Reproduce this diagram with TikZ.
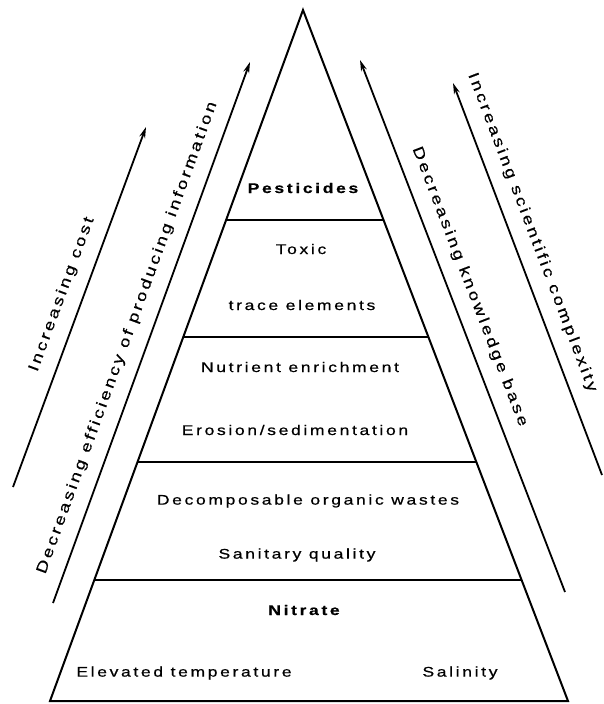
\documentclass[tikz,border=0pt]{standalone}
\usepackage{fontspec}
\setmainfont{Liberation Sans}[FakeStretch=1.25,LetterSpace=19,FakeBold=0.6]
\usetikzlibrary{positioning,arrows.meta,calc}

\begin{document}
\begin{tikzpicture}[
    x=1pt,y=-1pt,
    side/.style={draw,line width=2pt,line join=miter},
    band/.style={line width=1.6pt},
    item/.style={font=\fontsize{14}{16}\selectfont,inner sep=0pt},
    trend/.style={-{Stealth[length=11pt,width=6pt]},line width=1.8pt},
    trendlabel/.style={font=\fontsize{15}{17}\selectfont,sloped,above=13pt,inner sep=0pt}
]

\useasboundingbox (0,0) rectangle (603,704);

% Pyramid corners
\coordinate (top) at (303,10);
\coordinate (bl) at (50,701);
\coordinate (br) at (568,701);
\draw[side] (top) -- (br) -- (bl) -- cycle;

% Band dividers (fraction of the height, from the apex)
\foreach \f [count=\i] in {0.304,0.473,0.654,0.825} {
    \coordinate (dl\i) at ($(top)!\f!(bl)$);
    \coordinate (dr\i) at ($(top)!\f!(br)$);
    \draw[band] (dl\i) -- (dr\i);
}

% Pollutants, top to bottom
\node[item] (pesticides) at (303,188) {\bfseries Pesticides};
\node[item] (toxic) at (301,249) {Toxic};
\node[item] (trace) at (302,305) {trace elements};
\node[item] (nutrient) at (300,367) {Nutrient enrichment};
\node[item] (erosion) at (295,430) {Erosion/sedimentation};
\node[item] (organic) at (308,501) {Decomposable organic wastes};
\node[item] (sanitary) at (297,555) {Sanitary quality};
\node[item] (nitrate) at (304,610) {\bfseries Nitrate};
\node[item] (temperature) at (184,673) {Elevated temperature};
\node[item] (salinity) at (460,673) {Salinity};

% Trend arrows, left side
\coordinate (cost0) at (13,487);
\coordinate (cost1) at (146,127);
\draw[trend] (cost0) -- node[trendlabel,pos=0.515] (costlabel) {Increasing cost} (cost1);

\coordinate (eff0) at (53,603);
\coordinate (eff1) at (250,62);
\draw[trend] (eff0) -- node[trendlabel,pos=0.477] (efflabel) {Decreasing efficiency of producing information} (eff1);

% Trend arrows, right side
\coordinate (know0) at (565,592);
\coordinate (know1) at (360,60);
\draw[trend] (know0) -- node[trendlabel,pos=0.56] (knowlabel) {Decreasing knowledge base} (know1);

\coordinate (cplx0) at (602,475);
\coordinate (cplx1) at (453,83);
\draw[trend] (cplx0) -- node[trendlabel,pos=0.6] (cplxlabel) {Increasing scientific complexity} (cplx1);

\end{tikzpicture}
\end{document}
